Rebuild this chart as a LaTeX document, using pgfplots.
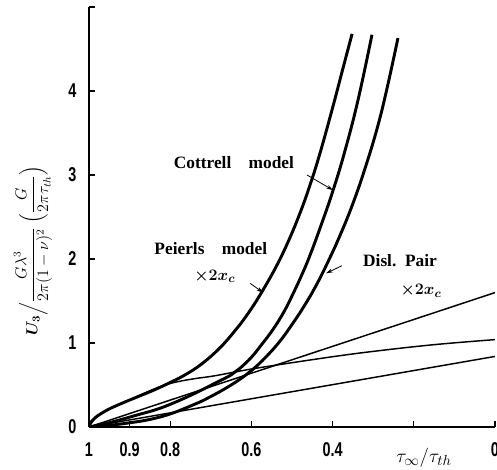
\documentclass[border=0pt]{standalone}
\usepackage{pgfplots}
\pgfplotsset{compat=1.18}
\usepackage{amsmath}
\usepackage{fontspec}
\setmainfont{Liberation Serif}
\newfontfamily\ticfont[FakeStretch=0.72]{Liberation Sans}
\usetikzlibrary{arrows.meta}

\begin{document}
\begin{tikzpicture}
\useasboundingbox (-66.75pt,-32.25pt) rectangle (306pt,320.25pt);
\begin{axis}[
  scale only axis, width=304.5pt, height=315pt,
  x dir=reverse, xmin=0, xmax=1, ymin=0, ymax=5,
  axis lines=left, axis line style={-, line width=1.2pt},
  xtick={0,0.2,0.4,0.6,0.8,0.9,1},
  xticklabels={0,,0.4,0.6,0.8,0.9,1},
  ytick={0,1,2,3,4,5}, yticklabels={0,1,2,3,4,},
  tick style={line width=0.9pt, black}, major tick length=4.5pt,
  tick align=inside,
  ticklabel style={font=\ticfont\bfseries\fontsize{15}{16}\selectfont},
  xticklabel style={yshift=-8pt},
  yticklabel style={xshift=-6pt},
]
% Peierls model x 2x_c
\addplot[black, line width=2.2pt, smooth, tension=0.7] coordinates {
  (1,0) (0.995,0.06) (0.985,0.11) (0.97,0.16) (0.95,0.215) (0.92,0.28)
  (0.88,0.36) (0.84,0.44) (0.80,0.53) (0.76,0.63) (0.72,0.76)
  (0.68,0.93) (0.65,1.09) (0.628,1.22) (0.60,1.41) (0.574,1.61)
  (0.54,1.90) (0.51,2.20) (0.48,2.55) (0.455,2.89) (0.431,3.26)
  (0.40,3.80) (0.375,4.26) (0.352,4.68)
};
% Cottrell model
\addplot[black, line width=2.2pt, smooth, tension=0.7] coordinates {
  (1,0) (0.96,0.04) (0.92,0.09) (0.88,0.145) (0.833,0.21) (0.79,0.29)
  (0.744,0.39) (0.69,0.52) (0.65,0.62) (0.628,0.70) (0.60,0.83)
  (0.575,0.98) (0.547,1.16) (0.52,1.37) (0.498,1.58) (0.475,1.82)
  (0.456,2.04) (0.43,2.38) (0.40,2.80) (0.37,3.28) (0.337,3.90)
  (0.303,4.67)
};
% Disl. pair x 2x_c
\addplot[black, line width=2.2pt, smooth, tension=0.7] coordinates {
  (1,0) (0.95,0.02) (0.90,0.05) (0.85,0.09) (0.80,0.155) (0.75,0.25)
  (0.709,0.34) (0.65,0.50) (0.603,0.66) (0.565,0.83) (0.53,1.02)
  (0.50,1.22) (0.47,1.44) (0.44,1.69) (0.41,1.98) (0.38,2.30)
  (0.35,2.66) (0.32,3.08) (0.29,3.56) (0.266,4.03) (0.239,4.63)
};
% thin lines
\addplot[black, line width=1.1pt] coordinates {(1,0) (0.5,0.80) (0,1.60)};
\addplot[black, line width=1.1pt, smooth, tension=0.7] coordinates {
  (1,0) (0.985,0.10) (0.96,0.19) (0.92,0.28) (0.874,0.38) (0.83,0.47)
  (0.79,0.53) (0.74,0.575) (0.69,0.61) (0.6,0.69) (0.48,0.78)
  (0.41,0.83) (0.3,0.90) (0.15,0.98) (0,1.04)
};
\addplot[black, line width=1.1pt] coordinates {(1,0) (0.5,0.42) (0,0.84)};

\coordinate (cot) at (axis cs:0.643,3.15);
\coordinate (cota) at (axis cs:0.463,3.0);
\coordinate (cotb) at (axis cs:0.399,2.82);
\coordinate (pei) at (axis cs:0.70,2.13);
\coordinate (peix) at (axis cs:0.69,1.79);
\coordinate (peia) at (axis cs:0.603,1.71);
\coordinate (peib) at (axis cs:0.571,1.60);
\coordinate (dis) at (axis cs:0.234,1.98);
\coordinate (disx) at (axis cs:0.182,1.62);
\coordinate (disa) at (axis cs:0.377,1.92);
\coordinate (disb) at (axis cs:0.416,1.83);
\coordinate (tau) at (axis cs:0.175,0);
\coordinate (ylb) at (axis cs:1,2.1);
\end{axis}
\node[font=\bfseries\fontsize{13}{15}\selectfont] at (cot) {Cottrell\quad model};
\draw[-{Stealth[length=5pt,width=3pt]}, line width=0.6pt] (cota) -- (cotb);
\node[font=\bfseries\fontsize{13}{15}\selectfont] at (pei) {Peierls\quad model};
\node[font=\fontsize{13}{15}\selectfont] at (peix) {$\boldsymbol{\times2x_c}$};
\draw[-{Stealth[length=5pt,width=3pt]}, line width=0.6pt] (peia) -- (peib);
\node[font=\bfseries\fontsize{13}{15}\selectfont] at (dis) {Disl.\enspace Pair};
\node[font=\fontsize{13}{15}\selectfont] at (disx) {$\boldsymbol{\times2x_c}$};
\draw[-{Stealth[length=5pt,width=3pt]}, line width=0.6pt] (disa) -- (disb);
\node[font=\fontsize{15}{16}\selectfont] at ([yshift=-23pt]tau) {$\tau_\infty/\tau_{th}$};
\node[rotate=90, font=\large] at ([xshift=-42pt]ylb) {$\boldsymbol{U_3}\Big/\dfrac{G\lambda^3}{2\pi(1-\nu)^2}\;\Big(\dfrac{G}{2\pi\tau_{th}}\Big)$};
\end{tikzpicture}
\end{document}
